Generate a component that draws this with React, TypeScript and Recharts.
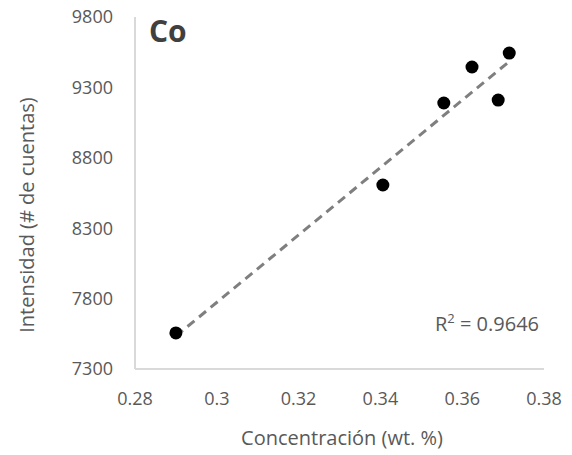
import { Label, Scatter, ScatterChart, XAxis, YAxis } from "recharts";

const concentration = [0.29, 0.3406, 0.3555, 0.3624, 0.3688, 0.3715];
const intensity = [7556, 8607, 9189, 9445, 9210, 9544];
const trendX = [0.29, 0.3715];
const trendY = [7534, 9484];
const xTicks = [0.28, 0.3, 0.32, 0.34, 0.36, 0.38];
const yTicks = [7300, 7800, 8300, 8800, 9300, 9800];

const points = concentration.map((c, i) => ({ x: c, y: intensity[i] }));
const trend = trendX.map((x, i) => ({ x, y: trendY[i] }));

const font = "'Open Sans', sans-serif";
const grey = "#595959";

function Dot(props: any) {
  return <circle cx={props.cx} cy={props.cy} r={6.5} fill="#000" />;
}

export default function App() {
  return (
    <div style={{ position: "absolute", left: 0, top: 0, width: 572, height: 455, background: "#fff", fontFamily: font }}>
      <ScatterChart width={572} height={455} margin={{ top: 17, right: 28, left: 0, bottom: 0 }}>
        <XAxis
          type="number"
          dataKey="x"
          domain={[0.28, 0.38]}
          ticks={xTicks}
          tickLine={false}
          tickSize={0}
          tickMargin={23}
          height={86}
          axisLine={{ stroke: "#d9d9d9", strokeWidth: 2 }}
          tick={{ fill: grey, fontSize: 18, fontFamily: font }}
        >
          <Label
            value="Concentración (wt. %)"
            content={() => (
              <text x={342} y={445} textAnchor="middle" fill={grey} fontSize={20} fontFamily={font}>
                Concentración (wt. %)
              </text>
            )}
          />
        </XAxis>
        <YAxis
          type="number"
          dataKey="y"
          domain={[7300, 9800]}
          ticks={yTicks}
          tickLine={false}
          tickSize={0}
          tickMargin={22}
          width={135}
          axisLine={{ stroke: "#d9d9d9", strokeWidth: 2 }}
          tick={{ fill: grey, fontSize: 18, fontFamily: font }}
        >
          <Label
            value="Intensidad (# de cuentas)"
            content={() => (
              <text
                x={34}
                y={215}
                textAnchor="middle"
                fill={grey}
                fontSize={20}
                fontFamily={font}
                transform="rotate(-90, 34, 215)"
              >
                Intensidad (# de cuentas)
              </text>
            )}
          />
        </YAxis>
        <Scatter
          data={trend}
          line={{ stroke: "#7f7f7f", strokeWidth: 3, strokeDasharray: "9 6" }}
          shape={() => <g />}
          isAnimationActive={false}
        />
        <Scatter data={points} fill="#000" shape={Dot} isAnimationActive={false} />
      </ScatterChart>
      <div style={{ position: "absolute", left: 149, top: 16, fontSize: 30, lineHeight: "30px", fontWeight: 700, color: "#404040" }}>
        Co
      </div>
      <div style={{ position: "absolute", left: 435, top: 314, fontSize: 20, lineHeight: "20px", color: grey }}>
        R<sup style={{ fontSize: 13, lineHeight: 0 }}>2</sup> = 0.9646
      </div>
    </div>
  );
}
